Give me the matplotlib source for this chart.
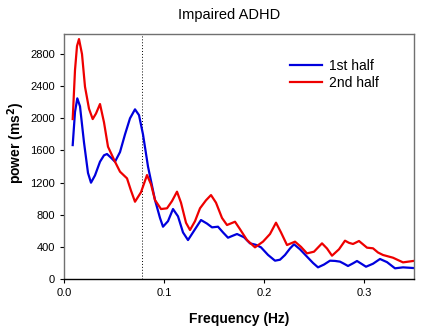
import numpy as np
import matplotlib
matplotlib.use('Agg')
import matplotlib.pyplot as plt

plt.rcParams['font.family'] = ['Liberation Sans', 'DejaVu Sans']

# 1st half
f1 = [0.0087, 0.0110, 0.0133, 0.0160, 0.0200, 0.0240, 0.0270, 0.0310, 0.0360, 0.0400, 0.0430,
      0.0470, 0.0510, 0.0560, 0.0610, 0.0660, 0.0710, 0.0750, 0.0790, 0.0840, 0.0910, 0.0960,
      0.0990, 0.1040, 0.1090, 0.1140, 0.1190, 0.1240, 0.1300, 0.1370, 0.1430, 0.1480, 0.1540,
      0.1590, 0.1640, 0.1690, 0.1730, 0.1800, 0.1860, 0.1920, 0.1970, 0.2040, 0.2110, 0.2160,
      0.2210, 0.2260, 0.2300, 0.2360, 0.2430, 0.2490, 0.2540, 0.2600, 0.2660, 0.2710, 0.2760,
      0.2800, 0.2840, 0.2890, 0.2930, 0.2980, 0.3020, 0.3090, 0.3160, 0.3230, 0.3310, 0.3390,
      0.3490]
p1 = [1667, 2080, 2249, 2150, 1700, 1320, 1199, 1290, 1460, 1540, 1556,
      1510, 1460, 1580, 1800, 2000, 2112, 2040, 1800, 1400, 983, 760,
      651, 720, 871, 780, 580, 485, 600, 734, 690, 643, 651,
      580, 514, 540, 560, 520, 444, 425, 394, 300, 228, 240,
      299, 380, 432, 370, 278, 200, 145, 180, 228, 225, 216,
      190, 162, 195, 224, 185, 153, 190, 249, 210, 133, 145,
      137]

# 2nd half
f2 = [0.0087, 0.0110, 0.0130, 0.0150, 0.0180, 0.0210, 0.0250, 0.0287, 0.0320, 0.0360, 0.0400,
      0.0440, 0.0510, 0.0560, 0.0630, 0.0670, 0.0710, 0.0770, 0.0830, 0.0870, 0.0910, 0.0970,
      0.1030, 0.1080, 0.1130, 0.1170, 0.1220, 0.1260, 0.1310, 0.1360, 0.1420, 0.1470, 0.1520,
      0.1580, 0.1630, 0.1710, 0.1760, 0.1830, 0.1910, 0.1990, 0.2060, 0.2120, 0.2170, 0.2230,
      0.2310, 0.2370, 0.2430, 0.2500, 0.2580, 0.2630, 0.2680, 0.2750, 0.2810, 0.2850, 0.2890,
      0.2950, 0.3030, 0.3090, 0.3140, 0.3190, 0.3290, 0.3390, 0.3490]
p2 = [1991, 2600, 2900, 2987, 2800, 2393, 2120, 1991, 2060, 2178, 1950,
      1647, 1460, 1336, 1253, 1100, 962, 1080, 1294, 1180, 983, 871,
      880, 970, 1087, 950, 700, 610, 720, 880, 980, 1045, 950,
      760, 672, 713, 620, 485, 394, 465, 560, 701, 580, 423,
      465, 400, 319, 340, 444, 380, 290, 370, 477, 450, 436,
      473, 390, 382, 330, 299, 265, 207, 224]

xticks = [0.0, 0.1, 0.2, 0.3]
yticks = [0, 400, 800, 1200, 1600, 2000, 2400, 2800]
cutoff = 0.078

fig = plt.figure(figsize=(4.29, 3.29), dpi=100)
ax = fig.add_axes([64/429, 50/329, 350/429, 245/329])

ax.axvline(cutoff, color='black', linestyle=(0, (1, 2)), linewidth=0.7)
ax.plot(f1, p1, color='#0000dd', linewidth=1.6, label='1st half')
ax.plot(f2, p2, color='#ee0000', linewidth=1.6, label='2nd half')

ax.set_xlim(0, 0.35)
ax.set_ylim(0, 3050)
ax.set_xticks(xticks)
ax.set_xticklabels(['%.1f' % v for v in xticks])
ax.set_yticks(yticks)
ax.tick_params(labelsize=8, direction='out', length=3, width=0.8)

for s in ['top', 'right', 'left']:
    ax.spines[s].set_color('#707070')
    ax.spines[s].set_linewidth(1.0)
ax.spines['bottom'].set_color('black')
ax.spines['bottom'].set_linewidth(1.0)

ax.set_xlabel('Frequency (Hz)', fontsize=10, fontweight='bold', labelpad=10)
fig.text(16/429, 1 - 143/329, 'power (ms$^\\mathbf{2}$)', fontsize=10, fontweight='bold',
         rotation=90, ha='center', va='center')
fig.text(229.5/429, 1 - 15/329, 'Impaired ADHD', fontsize=10.5, ha='center', va='center')

fig.legend(loc='upper left', bbox_to_anchor=(290/429, 1 - 58.5/329), frameon=False, fontsize=10,
           handlelength=2.3, handletextpad=0.5, labelspacing=0.22, borderpad=0, borderaxespad=0)

fig.savefig('out.png', dpi=100)
